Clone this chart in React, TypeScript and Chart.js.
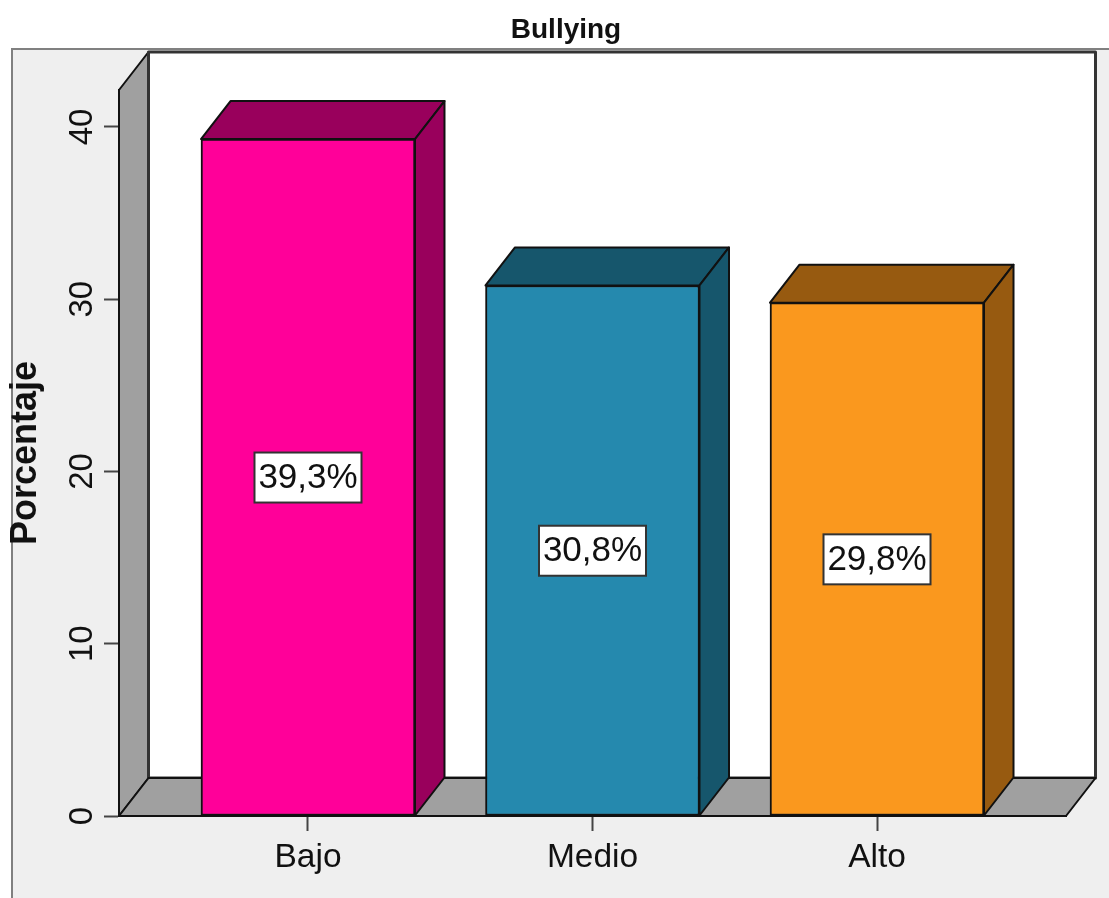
import React, { useEffect, useRef } from "react";
import { Chart, registerables } from "chart.js";

Chart.register(...registerables);

const chartTitle = "Bullying";
const categories = ["Bajo", "Medio", "Alto"];
const positions = [1, 2, 3];
const percentages = [39.3, 30.8, 29.8];
const yTicks = [0, 10, 20, 30, 40];
const frontColors = ["#ff0099", "#2589ae", "#fa981e"];
const sideColors = ["#99005c", "#16566c", "#975a10"];
const wallColor = "#a0a0a0";
const panelColor = "#efefef";
const lineColor = "#111111";
const fontFamily = "'Liberation Sans', Arial, sans-serif";
const depthX = 29.5;
const depthY = 38;

const poly = (ctx: CanvasRenderingContext2D, pts: number[][], fill: string) => {
  ctx.beginPath();
  pts.forEach(([x, y], i) => (i ? ctx.lineTo(x, y) : ctx.moveTo(x, y)));
  ctx.closePath();
  ctx.fillStyle = fill;
  ctx.fill();
  ctx.stroke();
};

const panelPlugin = {
  id: "panel",
  beforeDraw(chart: any) {
    const { ctx, width, height } = chart;
    ctx.save();
    ctx.fillStyle = "#ffffff";
    ctx.fillRect(0, 0, width, height);
    ctx.fillStyle = panelColor;
    ctx.fillRect(11, 48, width - 11, height - 48);
    ctx.strokeStyle = "#808080";
    ctx.lineWidth = 2;
    ctx.beginPath();
    ctx.moveTo(12, height);
    ctx.lineTo(12, 49);
    ctx.lineTo(width, 49);
    ctx.stroke();
    ctx.fillStyle = lineColor;
    ctx.font = `bold 28px ${fontFamily}`;
    ctx.textAlign = "center";
    ctx.textBaseline = "middle";
    ctx.fillText(chartTitle, 566, 30);
    ctx.restore();
  },
};

const box3dPlugin = {
  id: "box3d",
  beforeDatasetsDraw(chart: any) {
    const { ctx, chartArea: a } = chart;
    const { left: l, right: r, top: t, bottom: b } = a;
    const dx = depthX;
    const dy = depthY;
    ctx.save();
    ctx.strokeStyle = lineColor;
    ctx.lineJoin = "round";
    ctx.lineWidth = 2;
    poly(ctx, [[l, t], [l + dx, t - dy], [l + dx, b - dy], [l, b]], wallColor);
    ctx.lineWidth = 3;
    ctx.strokeStyle = "#333333";
    poly(ctx, [[l + dx, t - dy], [r + dx, t - dy], [r + dx, b - dy], [l + dx, b - dy]], "#ffffff");
    ctx.lineWidth = 2;
    ctx.strokeStyle = lineColor;
    poly(ctx, [[l, b], [l + dx, b - dy], [r + dx, b - dy], [r, b]], wallColor);
    chart.getDatasetMeta(0).data.forEach((bar: any, i: number) => {
      const { x, y, base, width } = bar.getProps(["x", "y", "base", "width"], true);
      const bl = x - width / 2;
      const br = x + width / 2;
      poly(ctx, [[bl, y], [bl + dx, y - dy], [br + dx, y - dy], [br, y]], sideColors[i]);
      poly(ctx, [[br, y], [br + dx, y - dy], [br + dx, base - dy], [br, base]], sideColors[i]);
    });
    ctx.restore();
  },
};

const labelPlugin = {
  id: "valueBoxes",
  afterDatasetsDraw(chart: any) {
    const { ctx, scales } = chart;
    ctx.save();
    percentages.forEach((v, i) => {
      const x = scales.x.getPixelForValue(positions[i]);
      const y = scales.y.getPixelForValue(v / 2);
      const w = 107;
      const h = 50;
      ctx.fillStyle = "#ffffff";
      ctx.strokeStyle = "#333333";
      ctx.lineWidth = 2;
      ctx.fillRect(x - w / 2, y - h / 2, w, h);
      ctx.strokeRect(x - w / 2, y - h / 2, w, h);
      ctx.fillStyle = lineColor;
      ctx.font = `35px ${fontFamily}`;
      ctx.textAlign = "center";
      ctx.textBaseline = "middle";
      ctx.fillText(`${v.toFixed(1).replace(".", ",")}%`, x, y + 1);
    });
    ctx.restore();
  },
};

export default function App() {
  const ref = useRef<HTMLCanvasElement>(null);
  useEffect(() => {
    const chart = new Chart(ref.current as HTMLCanvasElement, {
      type: "bar",
      data: {
        datasets: [
          {
            label: chartTitle,
            data: positions.map((p, i) => ({ x: p, y: percentages[i] })),
            backgroundColor: frontColors,
            borderColor: lineColor,
            borderWidth: 2,
            borderSkipped: false,
            barThickness: 214,
          },
        ],
      },
      options: {
        responsive: false,
        animation: false,
        layout: { padding: { left: 0, right: 43, top: 90, bottom: 0 } },
        plugins: {
          legend: { display: false },
          tooltip: { enabled: false },
          title: { display: false },
        },
        scales: {
          x: {
            type: "linear",
            offset: false,
            min: 0.3357,
            max: 3.6643,
            afterBuildTicks: (s: any) => {
              s.ticks = positions.map((value) => ({ value }));
            },
            afterFit: (s: any) => {
              s.height = 82;
            },
            border: { display: true, color: lineColor, width: 2 },
            grid: { offset: false, drawOnChartArea: false, drawTicks: true, tickLength: 15, tickColor: "#444444", tickWidth: 2 },
            ticks: {
              autoSkip: false,
              maxRotation: 0,
              padding: 7,
              color: lineColor,
              font: { family: fontFamily, size: 33.5 },
              callback: (v: any) => categories[positions.indexOf(Number(v))] ?? "",
            },
          },
          y: {
            type: "linear",
            min: 0,
            max: 42.148,
            afterBuildTicks: (s: any) => {
              s.ticks = yTicks.map((value) => ({ value }));
            },
            afterFit: (s: any) => {
              s.width = 119;
            },
            border: { display: true, color: lineColor, width: 2 },
            grid: { drawOnChartArea: false, drawTicks: true, tickLength: 15, tickColor: "#444444", tickWidth: 2 },
            title: {
              display: true,
              text: "Porcentaje",
              color: lineColor,
              font: { family: fontFamily, size: 36, weight: "bold" },
              padding: { top: 4, bottom: 0 },
            },
            ticks: {
              autoSkip: false,
              minRotation: 90,
              maxRotation: 90,
              crossAlign: "center",
              padding: 3,
              color: lineColor,
              font: { family: fontFamily, size: 33 },
            },
          },
        },
      } as any,
      plugins: [panelPlugin, box3dPlugin, labelPlugin],
    });
    return () => chart.destroy();
  }, []);
  return (
    <div style={{ position: "absolute", left: 0, top: 0, width: 1109, height: 898 }}>
      <canvas ref={ref} width={1109} height={898} style={{ display: "block" }} />
    </div>
  );
}
